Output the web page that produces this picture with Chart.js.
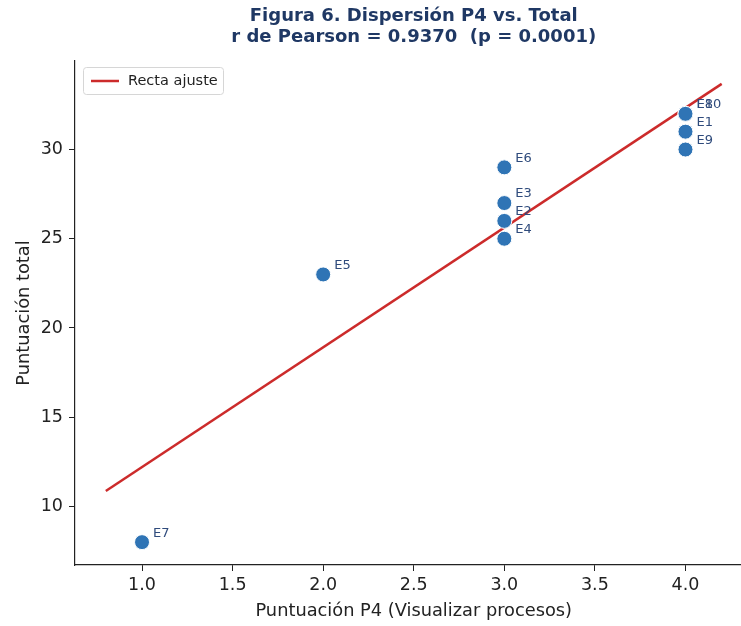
<!DOCTYPE html>
<html>
<head>
<meta charset="utf-8">
<script src="https://cdn.jsdelivr.net/npm/chart.js@4"></script>
<style>
  html, body { margin: 0; padding: 0; background: #fff; overflow: hidden; }
  #wrap { width: 741px; height: 626px; overflow: hidden; }
</style>
</head>
<body>
<div id="wrap"><canvas id="chart" width="761" height="626"></canvas></div>
<script>
// data
var labels = ["E1", "E2", "E3", "E4", "E5", "E6", "E7", "E8", "E9", "E10"];
var p4 = [4, 3, 3, 3, 2, 3, 1, 4, 4, 4];
var total = [31, 26, 27, 25, 23, 29, 8, 32, 30, 32];
var fitX = [0.8, 4.2];
var fitY = [10.87, 33.68];
var xTicks = [1.0, 1.5, 2.0, 2.5, 3.0, 3.5, 4.0];
var yTicks = [10, 15, 20, 25, 30];
var titleLines = ["Figura 6. Dispersión P4 vs. Total", "r de Pearson = 0.9370  (p = 0.0001)"];

var FONT = "'DejaVu Sans', sans-serif";

// title over the axes, labels next to each point, legend box
var extras = {
  id: 'extras',
  afterDatasetsDraw: function(chart) {
    var ctx = chart.ctx;
    var a = chart.chartArea;
    var meta = chart.getDatasetMeta(0);
    ctx.save();

    ctx.font = "bold 18px " + FONT;
    ctx.fillStyle = "#1f3864";
    ctx.textAlign = "center";
    ctx.textBaseline = "middle";
    var cx = (a.left + a.right) / 2;
    ctx.fillText(titleLines[0], cx, 16);
    ctx.fillText(titleLines[1], cx, 37);

    ctx.font = "13px " + FONT;
    ctx.fillStyle = "#2f4b7c";
    ctx.textAlign = "left";
    meta.data.forEach(function(pt, i) {
      ctx.fillText(labels[i], pt.x + 11, pt.y - 9);
    });

    // legend
    var bx = a.left + 8, by = a.top + 6, bw = 140, bh = 27;
    ctx.fillStyle = "rgba(255,255,255,0.8)";
    ctx.strokeStyle = "#d6d6d6";
    ctx.lineWidth = 1;
    ctx.beginPath();
    ctx.roundRect(bx + 0.5, by + 0.5, bw, bh, 3);
    ctx.fill();
    ctx.stroke();
    ctx.strokeStyle = "#cc2b2b";
    ctx.lineWidth = 2.5;
    ctx.beginPath();
    ctx.moveTo(bx + 8, by + 14);
    ctx.lineTo(bx + 36, by + 14);
    ctx.stroke();
    ctx.fillStyle = "#222";
    ctx.font = "14.5px " + FONT;
    ctx.fillText("Recta ajuste", bx + 45, by + 14);
    ctx.restore();
  }
};

var ctx = document.getElementById("chart").getContext('2d');
var myChart = new Chart(ctx, {
  type: 'scatter',
  data: {
    datasets: [{
      label: 'Estudiantes',
      data: p4.map(function(x, i) { return { x: x, y: total[i] }; }),
      backgroundColor: '#2f74b5',
      borderColor: '#ffffff',
      borderWidth: 1,
      pointRadius: 7.5,
      pointHoverRadius: 7.5
    }, {
      type: 'line',
      label: 'Recta ajuste',
      data: fitX.map(function(x, i) { return { x: x, y: fitY[i] }; }),
      borderColor: '#cc2b2b',
      borderWidth: 2.5,
      pointRadius: 0,
      fill: false
    }]
  },
  options: {
    responsive: false,
    animation: false,
    layout: { padding: { left: 0, right: 0, top: 61, bottom: 0 } },
    plugins: {
      legend: { display: false },
      tooltip: { enabled: false },
      title: { display: false }
    },
    scales: {
      x: {
        type: 'linear',
        min: 0.63,
        max: 4.37,
        afterBuildTicks: function(s) { s.ticks = xTicks.map(function(v) { return { value: v }; }); },
        afterFit: function(s) { s.height = 61; },
        grid: { display: true, drawOnChartArea: false, drawTicks: true, tickLength: 6, color: '#222', tickWidth: 1 },
        border: { display: true, color: '#222', width: 1.2 },
        ticks: {
          color: '#222', font: { family: FONT, size: 17.5 }, padding: 4,
          maxRotation: 0, autoSkip: false,
          callback: function(v) { return Number(v).toFixed(1); }
        },
        title: {
          display: true, text: 'Puntuación P4 (Visualizar procesos)', color: '#222',
          font: { family: FONT, size: 17.8 }, padding: { top: 2, bottom: 4 }
        }
      },
      y: {
        min: 6.72,
        max: 34.96,
        afterBuildTicks: function(s) { s.ticks = yTicks.map(function(v) { return { value: v }; }); },
        afterFit: function(s) { s.width = 75; },
        grid: { display: true, drawOnChartArea: false, drawTicks: true, tickLength: 6, color: '#222', tickWidth: 1 },
        border: { display: true, color: '#222', width: 1.2 },
        ticks: { color: '#222', font: { family: FONT, size: 17.5 }, padding: 6, autoSkip: false },
        title: {
          display: true, text: 'Puntuación total', color: '#222',
          font: { family: FONT, size: 17.8 }, padding: { top: 14, bottom: 4 }
        }
      }
    }
  },
  plugins: [extras]
});
</script>
</body>
</html>
